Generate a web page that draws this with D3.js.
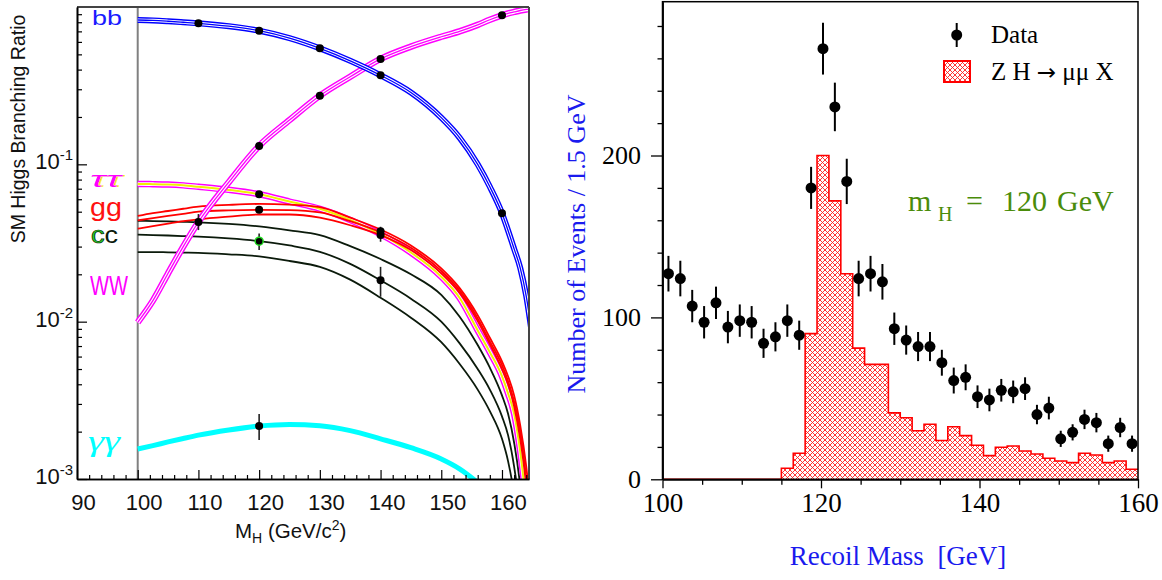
<!DOCTYPE html>
<html><head><meta charset="utf-8">
<script src="https://cdn.jsdelivr.net/npm/d3@7"></script>
<style>body{margin:0;background:#fff} svg{display:block}</style>
</head><body>
<svg id="c" width="1162" height="580"></svg>
<script>
// ================= LEFT PANEL DATA: SM Higgs branching ratios =================
const massGrid = [100,102.5,105,107.5,110,115,120,125,130,135,140,145,150,153,156,158,160,161,162,163,164,165];
const brBB  = [0.827,0.822,0.812,0.800,0.788,0.755,0.707,0.634,0.546,0.455,0.368,0.286,0.198,0.148,0.100,0.072,0.0489,0.038,0.029,0.022,0.0145,0.008];
const brWW  = [0.0099,0.0136,0.0203,0.030,0.043,0.077,0.131,0.191,0.273,0.36,0.468,0.56,0.647,0.70,0.77,0.83,0.885,0.91,0.93,0.95,0.965,0.975];
const brTau = [0.075,0.0748,0.0744,0.0735,0.072,0.0688,0.0645,0.058,0.0522,0.0443,0.036,0.0275,0.0193,0.0142,0.0088,0.0064,0.0045,0.0035,0.0026,0.0015,0.0007,0.0003];
const brGGlo = [0.039,0.0405,0.042,0.0435,0.0447,0.0465,0.048,0.048,0.0458,0.041,0.0355,0.0285,0.0203,0.0153,0.0101,0.0072,0.0050,0.0040,0.0029,0.0018,0.0009,0.0003];
const brGGmid= [0.044,0.0455,0.047,0.0485,0.050,0.051,0.0514,0.0512,0.0495,0.0435,0.037,0.0295,0.021,0.0158,0.0105,0.0075,0.0053,0.0042,0.0031,0.0020,0.0010,0.0004];
const brGGhi = [0.047,0.049,0.0505,0.0522,0.0538,0.0552,0.056,0.0555,0.0535,0.0458,0.0385,0.0305,0.0218,0.0164,0.011,0.0079,0.0056,0.0045,0.0034,0.0022,0.0012,0.0005];
const brCClo = [0.0277,0.0277,0.0276,0.0275,0.0274,0.0268,0.026,0.0243,0.0223,0.0185,0.0142,0.0106,0.0074,0.0054,0.0037,0.0027,0.0018,0.0013,0.0008,0.0004,0.0001,0.00005];
const brCCmid= [0.0357,0.0355,0.0353,0.0350,0.0347,0.0338,0.0325,0.0305,0.0278,0.0233,0.0183,0.0140,0.0100,0.0073,0.0050,0.0037,0.0025,0.0019,0.0012,0.0006,0.0002,0.0001];
const brCChi = [0.0438,0.0436,0.0434,0.0431,0.0428,0.0418,0.0403,0.0381,0.0355,0.0302,0.0250,0.0200,0.0148,0.0108,0.0071,0.0051,0.0034,0.0026,0.0017,0.0009,0.0003,0.0001];
const brGamGam = [0.00155,0.00163,0.00172,0.00181,0.00190,0.00205,0.00217,0.00222,0.00218,0.00203,0.00180,0.00158,0.00134,0.00116,0.00095,0.00082,0.0007,0.00063,0.00056,0.0005,0.00044,0.0004];

// measured points (mass, BR, error low, error high, green marker)
const ptMass  = [110,120,130,140,160, 110,120,130,140,160, 120,120,120, 140,140,140, 120];
const ptBR    = [0.788,0.707,0.546,0.368,0.0489, 0.043,0.131,0.273,0.468,0.885, 0.0645,0.0514,0.0325, 0.0355,0.0375,0.0183, 0.00217];
const ptErrLo = [null,null,null,null,null, 0.0382,null,null,null,null, null,null,0.0285, 0.0322,null,0.0144, 0.00177];
const ptErrHi = [null,null,null,null,null, 0.0483,null,null,null,null, null,null,0.0364, 0.0401,null,0.0223, 0.00259];
const ptGreen = [0,0,0,0,0, 0,0,0,0,0, 0,0,1, 0,0,0, 0];

// axis ticks (left panel)
const xMajorL = [90,100,110,120,130,140,150,160];
const xMinorL = [92,94,96,98,102,104,106,108,112,114,116,118,122,124,126,128,132,134,136,138,142,144,146,148,152,154,156,158,162,164];
const yMajorL = [0.001,0.01,0.1];
const yMajorExp = ["-3","-2","-1"];
const yMinorL = [0.002,0.003,0.004,0.005,0.006,0.007,0.008,0.009,0.02,0.03,0.04,0.05,0.06,0.07,0.08,0.09,0.2,0.3,0.4,0.5,0.6,0.7,0.8,0.9];

// ================= RIGHT PANEL DATA: recoil mass =================
const binCenters = [100.75,102.25,103.75,105.25,106.75,108.25,109.75,111.25,112.75,114.25,115.75,117.25,118.75,120.25,121.75,123.25,124.75,126.25,127.75,129.25,130.75,132.25,133.75,135.25,136.75,138.25,139.75,141.25,142.75,144.25,145.75,147.25,148.75,150.25,151.75,153.25,154.75,156.25,157.75,159.25];
const dataCounts = [127,124,107,97,109,94,98,97,84,88,98,89,180,266,230,184,124,127,122,93,86,82,82,72,61,63,51,49,55,54,56,40,44,25,29,37,35,22,32,22];
const dataErrs   = [11,11,10,10,10,10,10,10,9,9,10,9,13,16,15,14,11,11,11,10,9,9,9,8,8,8,7,7,7,7,7,6,7,5,5,6,6,5,6,5];
const signalCounts = [0,0,0,0,0,0,0,0,0,0,6.8,16.1,90,200,172,127,81,71,71,41,38,30,34,24,32.5,27,21,14.6,19.8,20.6,17.5,15.6,13,11.3,10.3,16.1,15,10.3,11.3,6.2];
const binHalfWidth = 0.75;
const xMajorR = [100,120,140,160];
const xMinorR = [105,110,115,125,130,135,145,150,155];
const yMajorR = [0,100,200];
const yMinorR = [20,40,60,80,120,140,160,180,220,240,260,280];

// ================= DRAWING =================
const svg = d3.select("#c");
const SANS = "'Liberation Sans', Arial, Helvetica, sans-serif";
const SERIF = "'Liberation Serif', 'Times New Roman', Times, serif";
const defs = svg.append("defs");
const shadow = defs.append("filter").attr("id","ylw").attr("x","-20%").attr("y","-20%").attr("width","140%").attr("height","140%");
shadow.append("feDropShadow").attr("dx",1.6).attr("dy",0).attr("stdDeviation",0).attr("flood-color","#f0e000").attr("flood-opacity",1);

// ---------- left panel ----------
const L = {x0:77, x1:529, y0:7, y1:479};
const xL = d3.scaleLinear().domain([90,164.45]).range([L.x0,L.x1]);
const yL = d3.scaleLog().domain([1e-3,1]).range([L.y1,L.y0]);

defs.append("clipPath").attr("id","clipL").append("rect")
  .attr("x",L.x0).attr("y",L.y0).attr("width",L.x1-L.x0).attr("height",L.y1-L.y0);

const gL = svg.append("g");
gL.append("line").attr("x1",xL(100)).attr("x2",xL(100)).attr("y1",L.y0).attr("y2",L.y1)
  .attr("stroke","#808080").attr("stroke-width",2);

const curves = gL.append("g").attr("clip-path","url(#clipL)");
const lineL = d3.line().x((d,i)=>xL(massGrid[i])).y(d=>yL(d)).curve(d3.curveMonotoneX);

function strokeLine(vals, color, w){
  curves.append("path").attr("d",lineL(vals)).attr("fill","none")
    .attr("stroke",color).attr("stroke-width",w).attr("stroke-linejoin","round");
}
strokeLine(brGamGam,"#00ffff",5);
[brCClo,brCCmid,brCChi].forEach(v=>strokeLine(v,"#0b1a0b",1.8));
strokeLine(brTau,"#ff00ff",6.5); strokeLine(brTau,"#ffffff",3.6); strokeLine(brTau,"#f0f000",2);
[brGGlo,brGGmid,brGGhi].forEach(v=>strokeLine(v,"#ff0000",1.8));
strokeLine(brWW,"#ff00ff",6.5); strokeLine(brWW,"#ffffff",3.6); strokeLine(brWW,"#ff00ff",1.3);
strokeLine(brBB,"#0000ff",6); strokeLine(brBB,"#ffffff",3.2); strokeLine(brBB,"#0000ff",1.3);

const gp = gL.append("g");
ptMass.forEach((m,i)=>{
  if(ptErrLo[i]!==null){
    gp.append("line").attr("x1",xL(m)).attr("x2",xL(m)).attr("y1",yL(ptErrLo[i])).attr("y2",yL(ptErrHi[i]))
      .attr("stroke","#222").attr("stroke-width",1.6);
  }
  gp.append("circle").attr("cx",xL(m)).attr("cy",yL(ptBR[i])).attr("r",4)
    .attr("fill","#000").attr("stroke",ptGreen[i]? "#22dd22":"none").attr("stroke-width",1.5);
});

gL.append("line").attr("x1",L.x0).attr("x2",L.x1).attr("y1",L.y0).attr("y2",L.y0).attr("stroke","#444").attr("stroke-width",2);
gL.append("line").attr("x1",L.x1).attr("x2",L.x1).attr("y1",L.y0).attr("y2",L.y1).attr("stroke","#444").attr("stroke-width",2);

const gxLmin = gL.append("g").attr("transform",`translate(0,${L.y1})`)
  .call(d3.axisBottom(xL).tickValues(xMinorL).tickSize(-4).tickSizeOuter(0).tickFormat(""));
const gxL = gL.append("g").attr("transform",`translate(0,${L.y1})`)
  .call(d3.axisBottom(xL).tickValues(xMajorL).tickSize(-9).tickSizeOuter(0).tickPadding(15));
gxL.selectAll("text").attr("font-family",SANS).attr("font-size",22).attr("fill","#111").attr("dx",6);
[gxLmin,gxL].forEach(g=>{g.select(".domain").attr("stroke","#000").attr("stroke-width",1.6); g.selectAll(".tick line").attr("stroke","#000").attr("stroke-width",1.2);});

const gyLmin = gL.append("g").attr("transform",`translate(${L.x0},0)`)
  .call(d3.axisLeft(yL).tickValues(yMinorL).tickSize(-5).tickSizeOuter(0).tickFormat(""));
const gyL = gL.append("g").attr("transform",`translate(${L.x0},0)`)
  .call(d3.axisLeft(yL).tickValues(yMajorL).tickSize(-10).tickSizeOuter(0).tickFormat(""));
[gyLmin,gyL].forEach(g=>{g.select(".domain").attr("stroke","#000").attr("stroke-width",1.6); g.selectAll(".tick line").attr("stroke","#000").attr("stroke-width",1.2);});
yMajorL.forEach((v,i)=>{
  const t = gL.append("text").attr("x",73).attr("y",yL(v)+5).attr("text-anchor","end")
    .attr("font-family",SANS).attr("fill","#111");
  t.append("tspan").attr("font-size",22).text("10");
  t.append("tspan").attr("font-size",15).attr("dy",-9).text(yMajorExp[i]);
});

const xt = gL.append("text").attr("x",235).attr("y",538).attr("font-family",SANS).attr("font-size",20.5).attr("fill","#111");
xt.append("tspan").text("M");
xt.append("tspan").attr("font-size",14).attr("dy",5).text("H");
xt.append("tspan").attr("dy",-5).text(" (GeV/c");
xt.append("tspan").attr("font-size",14).attr("dy",-8).text("2");
xt.append("tspan").attr("dy",8).text(")");
gL.append("text").attr("transform","translate(25,129) rotate(-90)").attr("text-anchor","middle")
  .attr("font-family",SANS).attr("font-size",19.5).attr("fill","#111").text("SM Higgs Branching Ratio");

function lab(x,y,txt,size,len,color,fam,style){
  return gL.append("text").attr("x",x).attr("y",y).attr("font-family",fam||SANS).attr("font-size",size)
    .attr("font-style",style||"normal").attr("fill",color)
    .attr("textLength",len).attr("lengthAdjust","spacingAndGlyphs").text(txt);
}
lab(92,25,"bb",21,30,"#1a1aff");
lab(90,187,"ττ",22,31,"#ff00ff",SANS,"italic").attr("filter","url(#ylw)");
lab(90,216,"gg",26,32,"#ff1010");
const ccT = lab(91,243,"",23,27,"#0b1a0b");
ccT.append("tspan").attr("fill","#22dd22").attr("stroke","#0b1a0b").attr("stroke-width",0.7).text("c");
ccT.append("tspan").text("c");
lab(90,295,"WW",28,38,"#ff00ff");
lab(88,451,"γγ",30,32,"#00ffff",SERIF,"italic");

// ---------- right panel ----------
const R = {x0:662.5, x1:1138, y0:1.7, y1:479.3};
const xR = d3.scaleLinear().domain([100,160]).range([R.x0,R.x1]);
const yR = d3.scaleLinear().domain([0,295]).range([R.y1,R.y0]);
const gR = svg.append("g");

const pat = defs.append("pattern").attr("id","hatch").attr("patternUnits","userSpaceOnUse")
  .attr("width",5).attr("height",5);
pat.append("rect").attr("width",5).attr("height",5).attr("fill","#fff");
pat.append("path").attr("d","M-1,-1 L6,6 M6,-1 L-1,6").attr("stroke","#ff2020").attr("stroke-width",0.9);

const histPts = [];
binCenters.forEach((c,i)=>{ histPts.push([c-binHalfWidth, signalCounts[i]]); histPts.push([c+binHalfWidth, signalCounts[i]]); });
const area = d3.area().x(d=>xR(d[0])).y0(yR(0)).y1(d=>yR(d[1]));
const stepLine = d3.line().x(d=>xR(d[0])).y(d=>yR(d[1]));
gR.append("path").attr("d",area(histPts)).attr("fill","url(#hatch)");
gR.append("path").attr("d",stepLine(histPts)).attr("fill","none").attr("stroke","#ff0000").attr("stroke-width",1.6);

binCenters.forEach((c,i)=>{
  gR.append("line").attr("x1",xR(c)).attr("x2",xR(c)).attr("y1",yR(dataCounts[i]-dataErrs[i])).attr("y2",yR(dataCounts[i]+dataErrs[i]))
    .attr("stroke","#000").attr("stroke-width",2);
  gR.append("circle").attr("cx",xR(c)).attr("cy",yR(dataCounts[i])).attr("r",5.5).attr("fill","#000");
});

gR.append("rect").attr("x",R.x0).attr("y",R.y0).attr("width",R.x1-R.x0).attr("height",R.y1-R.y0)
  .attr("fill","none").attr("stroke","#000").attr("stroke-width",1.5);

const gxRmin = gR.append("g").attr("transform",`translate(0,${R.y1})`)
  .call(d3.axisBottom(xR).tickValues(xMinorR).tickSize(5.5).tickSizeOuter(0).tickFormat(""));
const gxR = gR.append("g").attr("transform",`translate(0,${R.y1})`)
  .call(d3.axisBottom(xR).tickValues(xMajorR).tickSize(9).tickSizeOuter(0).tickPadding(5));
gxR.selectAll("text").attr("font-family",SERIF).attr("font-size",27).attr("fill","#000");
const gyRmin = gR.append("g").attr("transform",`translate(${R.x0},0)`)
  .call(d3.axisLeft(yR).tickValues(yMinorR).tickSize(5).tickSizeOuter(0).tickFormat(""));
const gyR = gR.append("g").attr("transform",`translate(${R.x0},0)`)
  .call(d3.axisLeft(yR).tickValues(yMajorR).tickSize(11.5).tickSizeOuter(0).tickPadding(10));
gyR.selectAll("text").attr("font-family",SERIF).attr("font-size",26).attr("fill","#000");
[gxRmin,gxR,gyRmin,gyR].forEach(g=>{g.select(".domain").attr("stroke","#000").attr("stroke-width",1.5); g.selectAll(".tick line").attr("stroke","#000").attr("stroke-width",1.3);});

gR.append("text").attr("x",898).attr("y",565).attr("text-anchor","middle").attr("font-family",SERIF)
  .attr("font-size",27).attr("fill","#1a1aee").attr("xml:space","preserve").style("white-space","pre").text("Recoil Mass  [GeV]");
gR.append("text").attr("transform","translate(585,244) rotate(-90)").attr("text-anchor","middle").attr("font-family",SERIF)
  .attr("font-size",26).attr("fill","#1a1aee").text("Number of Events / 1.5 GeV");

gR.append("line").attr("x1",956.7).attr("x2",956.7).attr("y1",23).attr("y2",47).attr("stroke","#000").attr("stroke-width",2);
gR.append("circle").attr("cx",956.7).attr("cy",35).attr("r",5.5).attr("fill","#000");
gR.append("text").attr("x",991).attr("y",43).attr("font-family",SERIF).attr("font-size",25).text("Data");
gR.append("rect").attr("x",944).attr("y",61).attr("width",26).attr("height",21).attr("fill","url(#hatch)")
  .attr("stroke","#ff0000").attr("stroke-width",2);
const lt = gR.append("text").attr("x",991).attr("y",80).attr("font-family",SERIF).attr("font-size",25);
lt.append("tspan").text("Z H ");
lt.append("tspan").attr("font-family","'DejaVu Sans', sans-serif").attr("font-size",23).text("→");
lt.append("tspan").text(" μμ X");

const mt = gR.append("text").attr("font-family",SERIF).attr("font-size",30).attr("fill","#4a8c0a");
mt.append("tspan").attr("x",908).attr("y",211).text("m");
mt.append("tspan").attr("x",938).attr("y",221).attr("font-size",20).text("H");
mt.append("tspan").attr("x",966).attr("y",211).text("=");
mt.append("tspan").attr("x",1002).attr("y",211).text("120");
mt.append("tspan").attr("x",1057).attr("y",211).text("GeV");
</script>
</body></html>
